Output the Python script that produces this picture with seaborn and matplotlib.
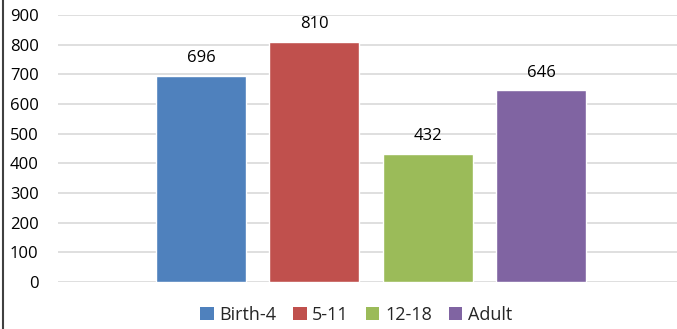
import matplotlib
matplotlib.use("Agg")
import matplotlib.pyplot as plt
import seaborn as sns
import pandas as pd
from matplotlib.lines import Line2D
from matplotlib.patches import Patch

categories = ["Birth-4", "5-11", "12-18", "Adult"]
values = [696, 810, 432, 646]
colors = ["#4F81BD", "#C0504D", "#9BBB59", "#8064A2"]
yticks = [0, 100, 200, 300, 400, 500, 600, 700, 800, 900]

sns.set_theme(style="white")
plt.rcParams["font.family"] = ["Open Sans", "DejaVu Sans"]

df = pd.DataFrame({"group": categories, "count": values})

fig = plt.figure(figsize=(6.77, 3.29), dpi=100)
W, H = 677, 329
ax = fig.add_axes([58 / W, 1 - 282 / H, (677 - 58) / W, (282 - 15) / H])

sns.barplot(data=df, x="group", y="count", hue="group", palette=colors,
            order=categories, hue_order=categories, dodge=False,
            width=0.794, legend=False, ax=ax, saturation=1)

ax.set_ylim(0, 900)
ax.set_xlim(-1.262, 4.20)
ax.set_yticks(yticks)
ax.set_yticklabels([str(t) for t in yticks], fontsize=12, color="#000000")
ax.set_xticks([])
ax.set_xlabel("")
ax.set_ylabel("")
ax.yaxis.grid(True, color="#D9D9D9", linewidth=1.2)
ax.set_axisbelow(True)
for s in ax.spines.values():
    s.set_visible(False)
ax.tick_params(axis="y", length=0, pad=14)

for c in ax.containers:
    ax.bar_label(c, fmt="%d", padding=7, fontsize=12, color="#000000")

handles = [Patch(facecolor=col, edgecolor="none") for col in colors]
fig.legend(handles, categories, loc="center", bbox_to_anchor=(356 / W, 1 - 315 / H),
           ncol=4, frameon=False, fontsize=13, handlelength=0.75, handleheight=0.75,
           handletextpad=0.3, columnspacing=0.95)

fig.add_artist(Line2D([2.5 / W, 2.5 / W], [0, 1], color="#404040", linewidth=1.5,
                      transform=fig.transFigure))

fig.savefig("out.png", dpi=100)
